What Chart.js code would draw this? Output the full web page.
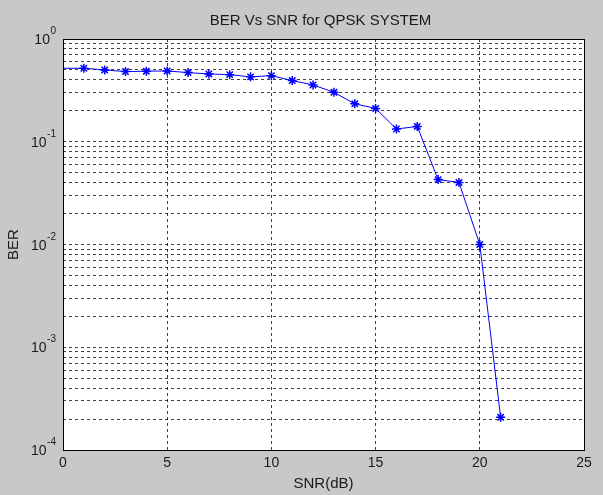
<!DOCTYPE html>
<html><head><meta charset="utf-8">
<script src="https://cdn.jsdelivr.net/npm/chart.js@4"></script>
<style>html,body{margin:0;padding:0;background:#c8c8c8;}#wrap{width:603px;height:495px;}</style>
</head><body><div id="wrap"><canvas id="c" width="603" height="495"></canvas></div>
<script>
const snr = [0,1,2,3,4,5,6,7,8,9,10,11,12,13,14,15,16,17,18,19,20,21];
const ber = [0.519,0.519,0.50,0.482,0.486,0.489,0.471,0.457,0.450,0.428,0.440,0.394,0.357,0.303,0.234,0.211,0.133,0.141,0.0428,0.0402,0.0100,0.000208];
const markerRadius = snr.map(v => v === 0 ? 0 : 4.5);
const xTicks = [0,5,10,15,20,25];
const yExponents = [0,-1,-2,-3,-4];
const titleText = 'BER Vs SNR for QPSK SYSTEM';
const xTitle = 'SNR(dB)';
const yTitle = 'BER';

const FONT = 'Arial, "Liberation Sans", sans-serif';

const deco = {
  id: 'deco',
  beforeDraw(chart) {
    const {ctx, chartArea: a} = chart;
    ctx.save();
    ctx.fillStyle = '#c8c8c8';
    ctx.fillRect(0, 0, chart.width, chart.height);
    ctx.fillStyle = '#ffffff';
    ctx.fillRect(a.left, a.top, a.right - a.left, a.bottom - a.top);
    ctx.restore();
  },
  afterDraw(chart) {
    const {ctx, chartArea: a, scales} = chart;
    ctx.save();
    ctx.strokeStyle = '#000';
    ctx.lineWidth = 1;
    ctx.strokeRect(Math.round(a.left) + 0.5, Math.round(a.top) + 0.5, Math.round(a.right - a.left), Math.round(a.bottom - a.top));
    ctx.fillStyle = '#1a1a1a';
    // x tick labels
    ctx.font = '14px ' + FONT;
    ctx.textAlign = 'center';
    ctx.textBaseline = 'middle';
    xTicks.forEach(v => ctx.fillText(String(v), scales.x.getPixelForValue(v), a.bottom + 13));
    // y tick labels 10^k
    yExponents.forEach(k => {
      const y = scales.y.getPixelForValue(Math.pow(10, k));
      const exp = String(k);
      ctx.font = '10px ' + FONT;
      const ew = ctx.measureText(exp).width;
      const expRight = a.left - 7;
      ctx.textAlign = 'left';
      ctx.textBaseline = 'alphabetic';
      ctx.fillText(exp, expRight - ew, y - 5);
      ctx.font = '14px ' + FONT;
      ctx.textAlign = 'right';
      ctx.fillText('10', expRight - ew - 0.5, y + 5);
    });
    // title
    ctx.font = '15px ' + FONT;
    ctx.textAlign = 'center';
    ctx.textBaseline = 'middle';
    ctx.fillText(titleText, (a.left + a.right) / 2 - 3, 21);
    // x title
    ctx.fillText(xTitle, (a.left + a.right) / 2, 484);
    // y title
    ctx.translate(14, (a.top + a.bottom) / 2);
    ctx.rotate(-Math.PI / 2);
    ctx.fillText(yTitle, 0, 0);
    ctx.restore();
  }
};

new Chart(document.getElementById('c'), {
  type: 'line',
  data: {
    datasets: [{
      data: snr.map((s, i) => ({x: s, y: ber[i]})),
      borderColor: '#0000ff',
      backgroundColor: '#0000ff',
      borderWidth: 1,
      pointStyle: 'star',
      pointRadius: markerRadius,
      pointBorderColor: '#0000ff',
      pointBorderWidth: 1.5,
      tension: 0,
      fill: false
    }]
  },
  options: {
    responsive: false,
    animation: false,
    devicePixelRatio: 1,
    layout: {padding: {left: 0, right: 19, top: 39, bottom: 0}},
    plugins: {legend: {display: false}, tooltip: {enabled: false}, title: {display: false}},
    scales: {
      x: {
        type: 'linear', min: 0, max: 25,
        ticks: {display: false, stepSize: 5},
        grid: {color: 'rgba(0,0,0,0.75)', drawTicks: false, lineWidth: 1},
        border: {display: false, dash: [3, 3]},
        afterFit(s) { s.height = 45; }
      },
      y: {
        type: 'logarithmic', min: 1e-4, max: 1,
        ticks: {display: false},
        afterBuildTicks(s) {
          const t = [];
          for (let k = -4; k <= 0; k++) {
            for (let m = 1; m <= 9; m++) {
              const v = m * Math.pow(10, k);
              if (v <= 1.0000001) t.push({value: v});
            }
          }
          s.ticks = t;
        },
        grid: {color: 'rgba(0,0,0,0.75)', drawTicks: false, lineWidth: 1},
        border: {display: false, dash: [3, 3]},
        afterFit(s) { s.width = 63; }
      }
    }
  },
  plugins: [deco]
});
</script>
</body></html>
